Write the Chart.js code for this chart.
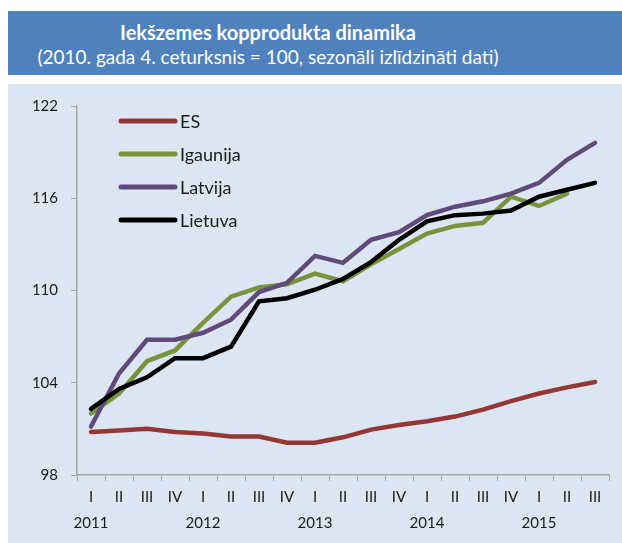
<!DOCTYPE html>
<html>
<head>
<meta charset="utf-8">
<script src="https://cdn.jsdelivr.net/npm/chart.js@4"></script>
<style>
    body { margin: 0; background: #ffffff; width: 622px; height: 543px; position: relative; overflow: hidden; font-family: Lato, "Open Sans", sans-serif; }
    .banner { position: absolute; left: 8px; top: 11px; width: 614px; height: 64px; background: #4f81bd; }
    .banner .txt { position: absolute; left: 0; top: 0; width: 520px; text-align: center; color: #ffffff; }
    .titre { font-size: 20px; font-weight: bold; line-height: 22px; margin-top: 10px; }
    .sous-titre { font-size: 19px; line-height: 22px; margin-top: 3px; }
    .zone { position: absolute; left: 8px; top: 84px; width: 614px; height: 459px; background: #dce6f2; }
</style>
</head>
<body>
<div class="banner">
    <div class="txt">
        <div class="titre">Iekšzemes kopprodukta dinamika</div>
        <div class="sous-titre">(2010. gada 4. ceturksnis = 100, sezonāli izlīdzināti dati)</div>
    </div>
</div>
<div class="zone">
    <canvas id="graphique" width="614" height="459"></canvas>
</div>
<script>
const gadi = ["2011", "2012", "2013", "2014", "2015"]
const ceturksni = ["I", "II", "III", "IV"]
const nbCeturksni = 19

const es = [100.8, 100.9, 101.0, 100.8, 100.7, 100.5, 100.5, 100.1, 100.1, 100.45, 100.95, 101.25, 101.5, 101.8, 102.25, 102.8, 103.3, 103.7, 104.05]
const igaunija = [102.0, 103.3, 105.4, 106.1, 107.9, 109.6, 110.2, 110.4, 111.1, 110.6, 111.7, 112.7, 113.7, 114.2, 114.4, 116.1, 115.5, 116.3, null]
const latvija = [101.15, 104.6, 106.8, 106.8, 107.25, 108.1, 109.9, 110.5, 112.25, 111.8, 113.3, 113.8, 114.9, 115.45, 115.8, 116.3, 117.0, 118.5, 119.6]
const lietuva = [102.3, 103.6, 104.35, 105.6, 105.6, 106.35, 109.3, 109.5, 110.05, 110.75, 111.85, 113.3, 114.5, 114.9, 115.0, 115.2, 116.1, 116.55, 117.0]

const yMin = 98
const yMax = 122
const yStep = 6

// etiquettes : trimestre + année sous le trimestre I
const labels = []
for (let i = 0; i < nbCeturksni; i++) {
    const q = ceturksni[i % 4]
    if (i % 4 === 0) {
        labels.push([q, gadi[Math.floor(i / 4)]])
    } else {
        labels.push(q)
    }
}

const police = "Lato, 'Open Sans', sans-serif"

// legende dessinee dans la zone du graphique
const legendeInterne = {
    id: "legendeInterne",
    afterDatasetsDraw(chart) {
        const ctx = chart.ctx
        const area = chart.chartArea
        ctx.save()
        chart.data.datasets.forEach((ds, i) => {
            const y = area.top + 15 + i * 33
            const x0 = area.left + 44
            ctx.strokeStyle = ds.borderColor
            ctx.lineWidth = 5
            ctx.lineCap = "round"
            ctx.beginPath()
            ctx.moveTo(x0, y)
            ctx.lineTo(x0 + 54, y)
            ctx.stroke()
            ctx.fillStyle = "#1a1a1a"
            ctx.font = "18px " + police
            ctx.textBaseline = "middle"
            ctx.fillText(ds.label, x0 + 59, y + 1)
        })
        ctx.restore()
    }
}

const serie = (label, data, couleur, ordre) => ({
    label: label,
    data: data,
    borderColor: couleur,
    backgroundColor: couleur,
    borderWidth: 4.5,
    pointRadius: 0,
    tension: 0,
    borderCapStyle: "round",
    order: ordre,
})

const config = {
    type: "line",
    data: {
        labels: labels,
        datasets: [
            serie("ES", es, "#953735", 3),
            serie("Igaunija", igaunija, "#77933c", 2),
            serie("Latvija", latvija, "#604a7b", 1),
            serie("Lietuva", lietuva, "#000000", 0),
        ],
    },
    options: {
        responsive: false,
        animation: false,
        layout: { padding: { top: 22, right: 13, left: 0, bottom: 0 } },
        plugins: {
            legend: { display: false },
            tooltip: { enabled: false },
            title: { display: false },
        },
        scales: {
            x: {
                offset: true,
                grid: { offset: true, drawOnChartArea: false, drawTicks: true, tickLength: 6, color: "#a6a6a6" },
                border: { color: "#a6a6a6", width: 1.5 },
                ticks: {
                    autoSkip: false,
                    maxRotation: 0,
                    padding: 3,
                    color: "#1a1a1a",
                    font: { family: police, size: 15, lineHeight: 1.75 },
                },
                afterFit(scale) { scale.height = 68 },
            },
            y: {
                min: yMin,
                max: yMax,
                grid: { drawOnChartArea: false, drawTicks: true, tickLength: 6, color: "#a6a6a6" },
                border: { color: "#a6a6a6", width: 1.5 },
                ticks: {
                    stepSize: yStep,
                    padding: 13,
                    color: "#1a1a1a",
                    font: { family: police, size: 15 },
                },
                afterFit(scale) { scale.width = 69 },
            },
        },
    },
    plugins: [legendeInterne],
}

// eslint-disable-next-line no-undef
const graphique = new Chart(document.querySelector("#graphique"), config)
</script>
</body>
</html>
